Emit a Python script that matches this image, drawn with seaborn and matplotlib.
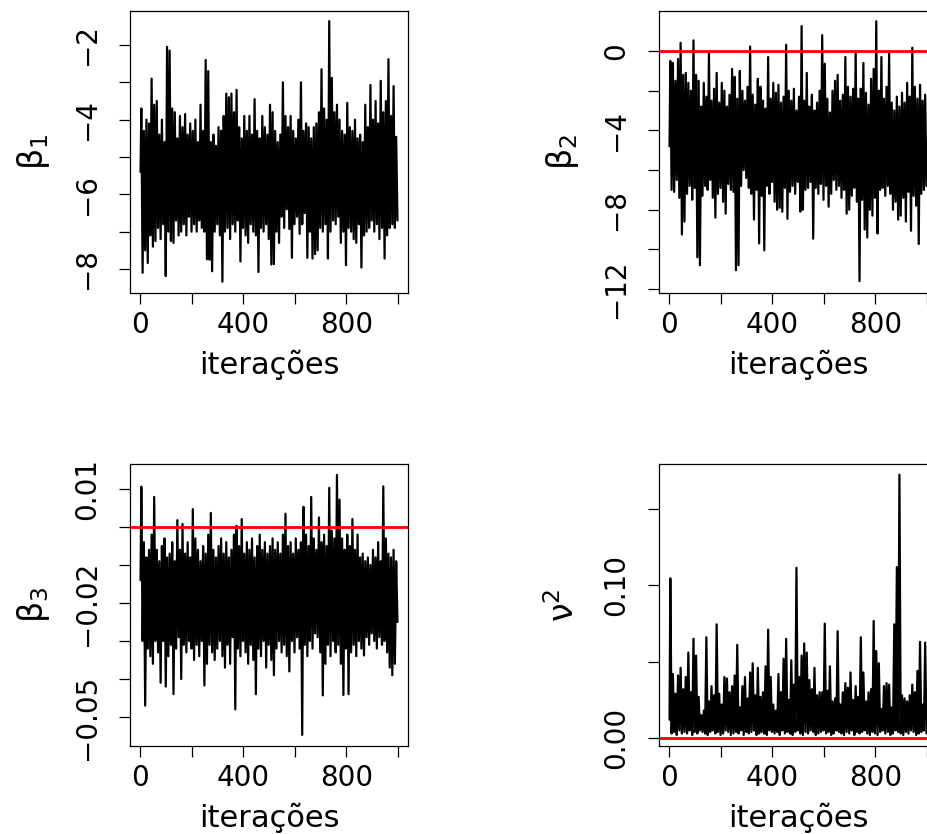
import numpy as np
import pandas as pd
import matplotlib
matplotlib.use("Agg")
import matplotlib.pyplot as plt
import seaborn as sns

# ---------------- data ----------------
# Each chain is summarised per block of 10 iterations by the upper and
# lower excursion seen in that block.
block_size = 10

beta1_start = -5.4
beta1_hi = [-3.7, -4.3, -4.0, -4.1, -2.9, -3.6, -3.5, -4.4, -4.0, -4.6,
            -2.05, -2.15, -3.7, -3.8, -4.5, -3.9, -4.2, -3.85, -4.4, -4.1,
            -4.3, -4.0, -4.6, -3.6, -4.3, -2.4, -2.7, -4.6, -4.4, -4.7,
            -4.2, -4.3, -3.9, -3.3, -3.4, -3.3, -3.8, -3.2, -4.2, -4.5,
            -3.9, -4.3, -3.9, -4.4, -3.45, -4.3, -4.5, -3.9, -4.2, -4.4,
            -3.6, -3.8, -4.3, -4.6, -4.4, -3.0, -3.9, -4.2, -3.9, -4.3,
            -4.5, -4.0, -3.0, -4.3, -4.1, -4.2, -4.5, -4.2, -4.1, -3.8,
            -2.65, -3.7, -4.0, -1.36, -2.88, -3.8, -3.6, -4.0, -4.3, -4.4,
            -3.55, -4.2, -4.3, -4.0, -4.5, -4.4, -4.6, -3.6, -4.2, -3.07,
            -4.0, -3.5, -4.1, -2.96, -3.8, -3.5, -2.38, -3.9, -3.1, -4.46]
beta1_lo = [-8.1, -7.5, -7.84, -7.1, -7.4, -7.25, -6.9, -7.2, -6.8, -8.19,
            -7.0, -7.25, -7.3, -6.7, -7.1, -7.0, -6.8, -7.1, -6.6, -7.0,
            -6.8, -7.0, -6.7, -6.9, -7.0, -7.74, -7.75, -8.06, -7.0, -6.8,
            -7.1, -8.34, -7.0, -6.9, -7.2, -6.8, -7.0, -6.7, -7.8, -6.9,
            -7.1, -7.3, -6.8, -7.0, -7.1, -8.08, -6.9, -7.0, -6.8, -7.2,
            -7.88, -7.87, -7.0, -7.3, -6.6, -6.9, -6.4, -6.93, -7.7, -6.8,
            -6.6, -7.06, -6.8, -6.5, -7.7, -7.0, -7.72, -7.6, -7.5, -6.9,
            -7.0, -6.8, -7.72, -7.0, -6.7, -6.8, -6.6, -7.3, -7.0, -7.9,
            -6.9, -7.0, -7.2, -7.3, -6.8, -7.96, -7.1, -7.0, -6.9, -6.7,
            -7.0, -6.8, -7.2, -6.9, -7.72, -7.1, -6.9, -6.8, -6.9, -6.7]

beta2_start = -4.8
beta2_hi = [-0.5, -0.6, -1.5, -0.4, 0.42, -1.2, -1.1, -1.6, -2.0, 0.54,
            -1.2, -1.5, -2.8, -1.6, -2.3, -0.08, -2.5, -1.9, -1.1, -2.6,
            -1.6, -2.0, -2.8, -2.2, -0.9, -1.3, -2.4, -1.0, -2.0, -2.5,
            -1.8, 0.23, -2.2, -2.7, -1.4, -1.8, -2.5, -2.9, -0.3, -2.4,
            -1.6, -2.1, -1.7, -2.6, -2.3, 0.32, -2.0, -2.5, -1.9, -3.0,
            -2.3, 1.26, -2.5, -1.1, -2.8, -2.2, -3.0, -2.6, -2.0, 0.8,
            -0.64, -2.4, -3.1, -2.0, -1.5, -1.2, -2.5, -2.2, -0.3, -1.8,
            -2.3, -1.9, 0.0, -2.4, -1.9, -0.6, -2.1, -2.7, -1.4, -0.9,
            1.5, -2.0, -0.3, -2.4, -1.8, -0.1, -2.6, -3.0, -2.3, -2.8,
            -2.1, -2.6, -1.6, -2.3, 0.17, -1.8, -2.4, -1.7, -2.5, -2.2]
beta2_lo = [-7.0, -7.1, -6.5, -7.4, -9.25, -8.6, -7.2, -6.8, -7.5, -6.9,
            -10.4, -10.8, -7.3, -6.8, -7.0, -6.5, -7.4, -8.4, -7.2, -6.9,
            -7.6, -8.2, -6.7, -7.0, -7.1, -11.05, -10.8, -6.8, -6.0, -6.4,
            -6.9, -7.2, -8.5, -7.0, -9.7, -7.3, -10.05, -6.8, -7.2, -6.6,
            -7.6, -8.0, -7.9, -8.1, -6.9, -8.46, -7.1, -6.8, -7.2, -6.6,
            -8.1, -8.0, -7.0, -6.9, -6.6, -9.46, -6.9, -7.2, -6.7, -7.5,
            -6.8, -7.85, -7.2, -6.5, -7.0, -6.8, -7.4, -7.0, -8.2, -8.0,
            -7.3, -6.9, -7.6, -11.6, -7.5, -9.0, -9.4, -8.0, -8.3, -7.4,
            -9.2, -7.0, -6.9, -7.3, -6.8, -7.2, -8.0, -7.6, -8.5, -8.3,
            -7.4, -8.6, -7.1, -9.06, -7.3, -7.8, -9.73, -7.2, -7.0, -6.8]

beta3_start = -0.014
beta3_hi = [0.0106, -0.004, -0.008, -0.006, -0.002, 0.0079, -0.006, -0.009, -0.005, -0.003,
            -0.008, -0.007, -0.004, -0.009, 0.0018, -0.006, 0.0008, -0.007, -0.004, -0.008,
            0.0047, -0.003, -0.006, -0.009, -0.005, -0.007, -0.002, 0.0037, -0.006, -0.008,
            -0.005, -0.003, -0.007, -0.004, -0.008, -0.006, -0.002, 0.0003, -0.005, 0.0021,
            -0.007, -0.004, -0.006, -0.003, -0.008, -0.005, -0.002, -0.006, -0.004, -0.007,
            -0.005, -0.003, -0.006, -0.004, -0.007, -0.002, 0.0035, -0.005, -0.004, -0.007,
            -0.003, -0.006, -0.004, 0.0053, -0.002, -0.005, 0.0079, -0.003, -0.006, 0.0025,
            -0.004, -0.002, -0.005, 0.0103, -0.001, -0.003, 0.0137, 0.0072, -0.003, -0.006,
            -0.002, -0.005, 0.0021, -0.006, -0.002, -0.008, -0.007, -0.009, -0.008, -0.010,
            -0.006, -0.008, -0.004, -0.009, 0.0107, -0.003, -0.007, -0.008, -0.006, -0.009]
beta3_lo = [-0.030, -0.047, -0.032, -0.034, -0.036, -0.030, -0.033, -0.041, -0.030, -0.042,
            -0.034, -0.031, -0.044, -0.032, -0.029, -0.040, -0.031, -0.033, -0.030, -0.032,
            -0.035, -0.031, -0.034, -0.030, -0.0417, -0.036, -0.031, -0.033, -0.035, -0.032,
            -0.030, -0.034, -0.037, -0.031, -0.036, -0.029, -0.048, -0.032, -0.034, -0.030,
            -0.033, -0.036, -0.031, -0.035, -0.044, -0.032, -0.034, -0.030, -0.037, -0.031,
            -0.035, -0.039, -0.032, -0.030, -0.033, -0.031, -0.034, -0.038, -0.030, -0.033,
            -0.029, -0.032, -0.0547, -0.031, -0.034, -0.030, -0.032, -0.028, -0.029, -0.033,
            -0.0443, -0.036, -0.031, -0.034, -0.030, -0.033, -0.031, -0.036, -0.0442, -0.032,
            -0.0440, -0.033, -0.031, -0.034, -0.030, -0.032, -0.0338, -0.029, -0.031, -0.028,
            -0.030, -0.032, -0.029, -0.031, -0.030, -0.033, -0.037, -0.039, -0.036, -0.025]

nu2_start = 0.012
nu2_hi = [0.1046, 0.042, 0.029, 0.041, 0.046, 0.032, 0.040, 0.056, 0.030, 0.065,
          0.054, 0.027, 0.015, 0.018, 0.066, 0.024, 0.034, 0.028, 0.0745, 0.029,
          0.022, 0.040, 0.039, 0.030, 0.034, 0.041, 0.061, 0.020, 0.034, 0.040,
          0.026, 0.043, 0.049, 0.028, 0.046, 0.027, 0.030, 0.047, 0.071, 0.040,
          0.022, 0.018, 0.042, 0.030, 0.052, 0.065, 0.025, 0.051, 0.035, 0.1115,
          0.040, 0.054, 0.062, 0.056, 0.038, 0.032, 0.046, 0.028, 0.030, 0.030,
          0.075, 0.031, 0.047, 0.024, 0.026, 0.070, 0.022, 0.030, 0.036, 0.033,
          0.043, 0.025, 0.034, 0.027, 0.066, 0.043, 0.024, 0.030, 0.032, 0.0767,
          0.057, 0.049, 0.019, 0.034, 0.036, 0.035, 0.020, 0.0745, 0.112, 0.1725,
          0.028, 0.026, 0.024, 0.028, 0.035, 0.030, 0.044, 0.063, 0.022, 0.0625]
nu2_lo = [0.003, 0.004, 0.002, 0.005, 0.003, 0.004, 0.003, 0.005, 0.002, 0.004,
          0.003, 0.005, 0.004, 0.003, 0.002, 0.004, 0.005, 0.003, 0.004, 0.002,
          0.003, 0.005, 0.004, 0.002, 0.003, 0.004, 0.003, 0.005, 0.002, 0.004,
          0.003, 0.004, 0.005, 0.002, 0.003, 0.004, 0.003, 0.002, 0.005, 0.004,
          0.003, 0.004, 0.002, 0.005, 0.003, 0.004, 0.003, 0.002, 0.004, 0.005,
          0.003, 0.002, 0.004, 0.003, 0.005, 0.004, 0.002, 0.003, 0.004, 0.005,
          0.003, 0.004, 0.002, 0.003, 0.005, 0.004, 0.003, 0.002, 0.004, 0.003,
          0.005, 0.002, 0.004, 0.003, 0.004, 0.005, 0.003, 0.002, 0.004, 0.003,
          0.002, 0.004, 0.005, 0.003, 0.004, 0.002, 0.003, 0.005, 0.004, 0.003,
          0.002, 0.004, 0.003, 0.005, 0.004, 0.002, 0.003, 0.004, 0.005, 0.003]

x_ticks = [0, 200, 400, 600, 800, 1000]
x_ticklabels = ["0", "", "400", "", "800", ""]

b1_ticks = [-8, -7, -6, -5, -4, -3, -2]
b1_ticklabels = ["\u22128", "", "\u22126", "", "\u22124", "", "\u22122"]
b2_ticks = [-12, -10, -8, -6, -4, -2, 0]
b2_ticklabels = ["\u221212", "", "\u22128", "", "\u22124", "", "0"]
b3_ticks = [-0.05, -0.04, -0.03, -0.02, -0.01, 0.0, 0.01]
b3_ticklabels = ["\u22120.05", "", "", "\u22120.02", "", "", "0.01"]
nu_ticks = [0.0, 0.05, 0.10, 0.15]
nu_ticklabels = ["0.00", "", "0.10", ""]

x_label = "iterações"


def trace_frame(start, hi, lo):
    k = np.arange(len(hi))
    it = np.concatenate([[1], np.column_stack([k * block_size + 4,
                                               k * block_size + 9]).ravel()])
    val = np.concatenate([[start], np.column_stack([hi, lo]).ravel()])
    return pd.DataFrame({"iteracao": it, "valor": val})


# ---------------- style ----------------
sns.set_theme(style="ticks")
plt.rcParams["font.family"] = ["DejaVu Sans"]
plt.rcParams["mathtext.fontset"] = "dejavusans"
plt.rcParams["axes.unicode_minus"] = True

fig = plt.figure(figsize=(9.28, 8.34), dpi=100)

W, H = 928.0, 834.0
ax_w = 278 / W
ax_h = 282 / H
panels = [
    dict(pos=(130 / W, 1 - 293 / H), start=beta1_start, hi=beta1_hi, lo=beta1_lo,
         ylim=(-8.643, -1.089), yt=b1_ticks, ytl=b1_ticklabels,
         ylabel="β$_1$", ref=None),
    dict(pos=(659 / W, 1 - 293 / H), start=beta2_start, hi=beta2_hi, lo=beta2_lo,
         ylim=(-12.2, 2.02), yt=b2_ticks, ytl=b2_ticklabels,
         ylabel="β$_2$", ref=0.0),
    dict(pos=(130 / W, 1 - 746 / H), start=beta3_start, hi=beta3_hi, lo=beta3_lo,
         ylim=(-0.05763, 0.01658), yt=b3_ticks, ytl=b3_ticklabels,
         ylabel="β$_3$", ref=0.0),
    dict(pos=(659 / W, 1 - 746 / H), start=nu2_start, hi=nu2_hi, lo=nu2_lo,
         ylim=(-0.0052, 0.1795), yt=nu_ticks, ytl=nu_ticklabels,
         ylabel="ν$^2$", ref=0.0),
]

for p in panels:
    ax = fig.add_axes([p["pos"][0], p["pos"][1], ax_w, ax_h])
    df = trace_frame(p["start"], p["hi"], p["lo"])
    sns.lineplot(data=df, x="iteracao", y="valor", ax=ax, color="black",
                 linewidth=1.6, estimator=None, sort=False)
    if p["ref"] is not None:
        ax.axhline(p["ref"], color="#FF0000", linewidth=2.0, zorder=5)
    ax.set_xlim(-39.96, 1039.96)
    ax.set_ylim(*p["ylim"])
    ax.set_xticks(x_ticks)
    ax.set_xticklabels(x_ticklabels)
    ax.set_yticks(p["yt"])
    ax.set_yticklabels(p["ytl"], rotation=90, va="center")
    ax.tick_params(axis="both", direction="out", length=8, width=0.9,
                   labelsize=20, color="black", labelcolor="black")
    ax.tick_params(axis="x", pad=5)
    ax.tick_params(axis="y", pad=13)
    for s in ax.spines.values():
        s.set_visible(True)
        s.set_color("black")
        s.set_linewidth(0.9)
    ax.set_xlabel(x_label, fontsize=22, labelpad=8, color="black")
    ax.set_ylabel(p["ylabel"], fontsize=24, labelpad=15, color="black")
    ax.grid(False)

fig.savefig("out.png", dpi=100, facecolor="white")
